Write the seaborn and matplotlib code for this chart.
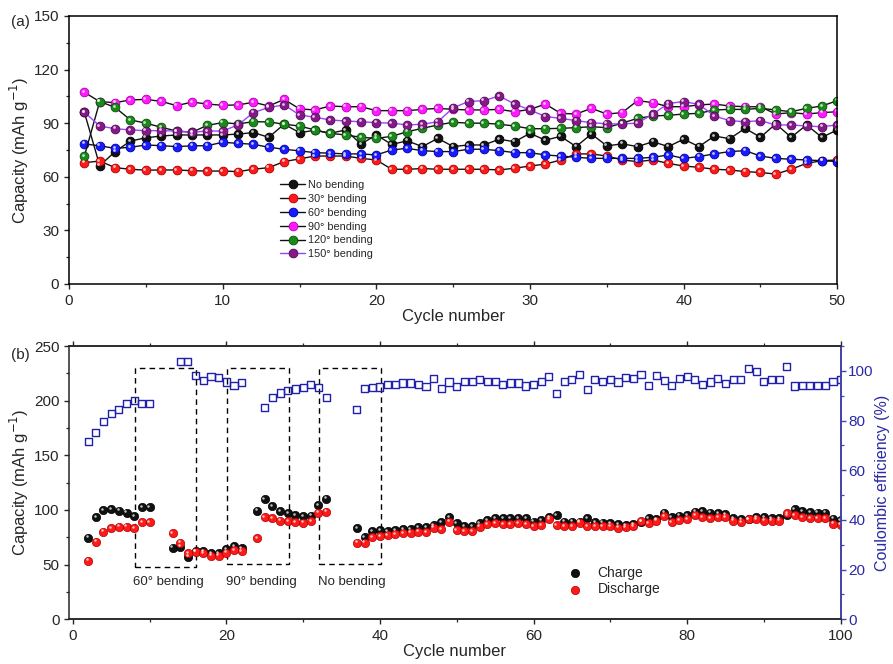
import numpy as np
import matplotlib
matplotlib.use("Agg")
import matplotlib.pyplot as plt
from matplotlib.patches import Rectangle
from matplotlib.transforms import offset_copy
from matplotlib.ticker import MultipleLocator
import seaborn as sns

# ---------------- data: panel (a) ----------------
cycles_a = list(range(1, 51))
no_bending = [96, 66.2, 74.1, 80, 81.8, 82.8, 83.4, 83.4, 83.4, 83.4,
              83.9, 84.7, 82.1, 89.4, 84.7, 86, 84.3, 86.2, 78.3, 83.4,
              78.1, 80.1, 76.9, 81.5, 76.9, 77.8, 77.8, 81, 79.6, 84.3,
              80.5, 82.6, 76.9, 83.9, 77.3, 78.4, 76.9, 79.6, 76.9, 81,
              76.9, 82.8, 81.3, 87.1, 82.1, 89.6, 82.1, 89, 82.1, 86.2]
bend_30 = [67.9, 68.8, 65.1, 64.2, 63.7, 63.8, 63.8, 63.4, 63.2, 63.2,
           62.9, 64.2, 65.1, 68.5, 70, 71.6, 71.6, 71.6, 70.3, 69.4,
           64.2, 64.2, 64.6, 64.2, 64.2, 64.2, 64.2, 63.8, 64.8, 66,
           67.1, 69.4, 72.8, 72.8, 71.6, 69.4, 68.5, 69.4, 67.5, 66,
           65.3, 64.2, 63.8, 62.9, 62.4, 61.5, 64.2, 67.5, 69, 69.4]
bend_60 = [78.4, 77.3, 75.9, 76.5, 77.8, 77.4, 76.9, 77.3, 77.4, 79.3,
           78.7, 78.2, 76.5, 75.4, 74.5, 73.5, 73.2, 72.8, 72.8, 72.2,
           75, 75.9, 74.6, 74.1, 74.1, 75.4, 75.4, 74.6, 73.5, 73.5,
           72.2, 71.6, 70.9, 70.3, 70.3, 70.3, 70.3, 70.9, 72.2, 70.3,
           71.3, 72.8, 74.1, 74.6, 71.6, 70.3, 69.8, 69.4, 69, 68.5]
bend_90 = [107.3, 102, 101.5, 103, 103.3, 102.2, 99.8, 101.8, 100.7, 100,
           100.2, 101.7, 99.6, 103.3, 98, 97.4, 99.6, 99.2, 99.2, 97,
           97, 97, 97.7, 98.3, 97.7, 97.4, 97.4, 97.7, 96.4, 97.7,
           100.7, 95.5, 95.1, 98.3, 95.1, 95.9, 102.6, 101.5, 99.2, 99.2,
           100.2, 100.7, 99.6, 99.2, 99.2, 95.1, 95.9, 95.1, 95.9, 96.4]
bend_120 = [71.6, 102.1, 98.8, 91.8, 90, 87.7, 85.6, 84.9, 88.8, 90.3,
            89.6, 90.8, 90.7, 89.4, 88.4, 86.2, 84.3, 83.4, 82.1, 81.5,
            82.6, 85.2, 87.1, 89, 90.5, 90, 90, 89.4, 88.4, 86.9,
            86.9, 87.1, 87.5, 88, 87.5, 90, 92.7, 94, 94.4, 95.1,
            95.5, 97.4, 97.7, 97.7, 98.3, 97.4, 96.4, 98.3, 99.6, 102.6]
bend_150 = [96.1, 88.4, 86.9, 86.2, 85.8, 85.8, 85.6, 84.9, 85.6, 85.6,
            89, 95.9, 98.8, 100.2, 94.6, 93.3, 91.8, 91.2, 90.8, 90.3,
            90, 89, 89.4, 90.8, 98.6, 102.1, 102.6, 105.2, 100.7, 97.4,
            93.7, 92.7, 91.4, 90.3, 89.6, 89.6, 90, 95.1, 101, 102.1,
            100.5, 94, 91.4, 90.8, 91.4, 89, 89, 88.4, 88, 89]
series_names = ["No bending", "30\u00b0 bending", "60\u00b0 bending",
                "90\u00b0 bending", "120\u00b0 bending", "150\u00b0 bending"]
series_values = [no_bending, bend_30, bend_60, bend_90, bend_120, bend_150]

# ---------------- data: panel (b) ----------------
cycles_b = ([2, 3, 4, 5, 6, 7, 8, 9, 10] + list(range(13, 23)) +
            list(range(24, 34)) + list(range(37, 101)))
charge = [74.7, 93.8, 100.0, 100.6, 99.4, 97.6, 94.5, 102.5, 102.5,
          65.5, 66.5, 57.3, 62.5, 62.5, 60.3, 60.3, 64.3, 67.1, 65.2,
          99.4, 109.8, 103.7, 98.8, 96.9, 95.4, 94.5, 94.8, 104.3, 110.4,
          83.2, 75.0, 80.7, 81.7, 81.0, 81.7, 82.3, 82.3, 84.2, 84.1,
          86.3, 88.7, 93.8, 87.8, 85.3, 85.3, 87.8, 90.9, 92.4, 92.4,
          92.4, 92.4, 92.4, 89.3, 90.9, 93.8, 95.4, 89.3, 89.3, 89.3,
          92.4, 88.7, 88.4, 87.8, 86.9, 86.3, 86.9, 89.3, 92.4, 91.4,
          97.5, 93.8, 94.8, 95.1, 98.5, 99.1, 97.5, 96.9, 96.0, 92.4,
          91.4, 91.8, 93.8, 93.2, 92.9, 92.9, 95.4, 101.0, 99.1, 97.8,
          97.5, 97.5, 92.0, 90.5]
discharge = [53.7, 71.0, 80.2, 83.2, 84.7, 84.7, 83.2, 88.8, 88.8,
             78.7, 70.1, 60.5, 61.9, 60.3, 58.2, 58.2, 60.9, 63.4, 62.5,
             74.1, 93.8, 92.4, 90.3, 90.0, 88.8, 88.5, 90.0, 97.6, 98.5,
             70.1, 70.1, 75.0, 76.2, 77.1, 78.1, 78.7, 79.3, 80.2, 79.6,
             83.8, 82.3, 89.3, 81.7, 81.0, 81.0, 84.7, 87.2, 87.8, 87.2,
             87.2, 87.8, 87.2, 85.3, 86.3, 91.4, 86.3, 85.3, 85.3, 88.4,
             85.3, 85.3, 85.3, 85.3, 83.8, 84.1, 85.3, 90.0, 87.8, 90.3,
             94.5, 88.7, 90.9, 91.8, 95.4, 93.8, 92.9, 93.8, 93.8, 90.3,
             88.7, 91.8, 91.8, 90.3, 90.3, 90.3, 96.9, 95.4, 93.8, 92.9,
             92.9, 92.9, 87.5, 86.6]
cycles_ce = ([2, 3, 4, 5, 6, 7, 8, 9, 10] + list(range(14, 23)) +
             list(range(25, 34)) + list(range(37, 101)))
efficiency = [71.5, 75.3, 79.6, 82.9, 84.6, 86.7, 88.0, 86.9, 86.9,
              103.6, 103.6, 98.2, 96.1, 97.9, 97.2, 95.5, 94.1, 95.4,
              85.3, 89.1, 91.1, 92.1, 92.7, 93.2, 94.5, 93.4, 89.4,
              84.3, 93.0, 93.2, 93.5, 94.5, 94.5, 95.1, 95.1, 94.5, 93.7,
              97.1, 93.0, 95.5, 93.7, 95.9, 95.9, 96.5, 95.7, 95.6, 94.4,
              95.1, 95.1, 93.9, 94.5, 95.7, 97.9, 91.0, 95.7, 96.5, 98.6,
              92.5, 96.4, 95.9, 96.7, 95.5, 97.5, 96.8, 98.6, 94.1, 98.1,
              96.1, 94.1, 96.8, 97.9, 96.4, 94.4, 95.5, 96.8, 94.8, 96.4,
              96.5, 101.0, 99.9, 95.7, 96.7, 96.7, 101.8, 93.9, 94.0, 94.0,
              94.2, 94.0, 95.7, 96.7]

box_left = [8.1, 20.1, 32.1]
box_right = [16.1, 28.1, 40.1]
box_bottom = [47.5, 50.3, 50.3]
box_top = [230, 230, 230]
box_labels = ["60\u00b0 bending", "90\u00b0 bending", "No bending"]

# ---------------- style ----------------
sns.set_style("ticks")
plt.rcParams["font.family"] = ["Liberation Sans", "DejaVu Sans"]
plt.rcParams["axes.linewidth"] = 1.1
plt.rcParams["xtick.major.width"] = 1.0
plt.rcParams["ytick.major.width"] = 1.0
plt.rcParams["xtick.minor.width"] = 0.9
plt.rcParams["ytick.minor.width"] = 0.9
plt.rcParams["xtick.major.size"] = 3.5
plt.rcParams["ytick.major.size"] = 3.5
plt.rcParams["xtick.minor.size"] = 2
plt.rcParams["ytick.minor.size"] = 2

face_colors = ["#111111", "#ff1a1a", "#1a1aff", "#ff1aff", "#1a8a1a", "#86188a"]
edge_colors = ["#000000", "#b00000", "#0000a0", "#b000b0", "#0a500a", "#500a55"]
line_colors = ["#111111", "#111111", "#111111", "#111111", "#111111", "#a040ff"]

fig = plt.figure(figsize=(8.93, 6.64), dpi=100)
ax1 = fig.add_axes([0.0773, 0.5723, 0.9376 - 0.0773, 0.976 - 0.5723])
ax2 = fig.add_axes([0.0776, 0.0673, 0.9414 - 0.0776, 0.4789 - 0.0673])

hl1 = offset_copy(ax1.transData, fig=fig, x=-1.0, y=1.0, units="points")
hl2 = offset_copy(ax2.transData, fig=fig, x=-0.9, y=0.9, units="points")

# ---------------- panel (a) ----------------
for name, vals, fc, ec, lc in zip(series_names, series_values, face_colors,
                                  edge_colors, line_colors):
    sns.lineplot(x=cycles_a, y=vals, ax=ax1, color=lc, linewidth=1.0,
                 marker="o", markersize=6.3, markerfacecolor=fc,
                 markeredgecolor=ec, markeredgewidth=0.6, label=name,
                 sort=False, legend=False)
for vals in series_values:
    ax1.plot(cycles_a, vals, linestyle="none", marker="o", markersize=2.0,
             markerfacecolor="white", markeredgewidth=0, alpha=0.75,
             transform=hl1)

ax1.set_xlim(0, 50)
ax1.set_ylim(0, 150)
ax1.xaxis.set_major_locator(MultipleLocator(10))
ax1.xaxis.set_minor_locator(MultipleLocator(5))
ax1.yaxis.set_major_locator(MultipleLocator(30))
ax1.yaxis.set_minor_locator(MultipleLocator(15))
ax1.tick_params(axis="both", which="both", direction="out", labelsize=11,
                top=False, right=False)
ax1.set_xlabel("Cycle number", fontsize=12, labelpad=1)
ax1.set_ylabel("Capacity (mAh g$^{-1}$)", fontsize=12, labelpad=2)
for sp in ax1.spines.values():
    sp.set_visible(True)
    sp.set_color("black")
h, l = ax1.get_legend_handles_labels()
ax1.legend(h, l, loc="center left", bbox_to_anchor=(0.265, 0.24),
           frameon=False, fontsize=7.8, handlelength=2.3, handletextpad=0.3,
           labelspacing=0.35, borderpad=0.2)

# ---------------- panel (b) ----------------
sns.scatterplot(x=cycles_b, y=charge, ax=ax2, color="#111111", s=36,
                edgecolor="#000000", linewidth=0.5, label="Charge", zorder=3)
sns.scatterplot(x=cycles_b, y=discharge, ax=ax2, color="#ff1a1a", s=36,
                edgecolor="#b00000", linewidth=0.5, label="Discharge", zorder=3)
ax2.plot(cycles_b, charge, linestyle="none", marker="o", markersize=1.8,
         markerfacecolor="white", markeredgewidth=0, alpha=0.75,
         transform=hl2, zorder=4)
ax2.plot(cycles_b, discharge, linestyle="none", marker="o", markersize=1.8,
         markerfacecolor="white", markeredgewidth=0, alpha=0.75,
         transform=hl2, zorder=4)

for xl, xr, yb, yt in zip(box_left, box_right, box_bottom, box_top):
    ax2.add_patch(Rectangle((xl, yb), xr - xl, yt - yb, fill=False,
                            edgecolor="black", linestyle=(0, (4, 3)),
                            linewidth=1.0, zorder=2))
for xl, lab in zip(box_left, box_labels):
    ax2.text(xl - 0.2, 34, lab, fontsize=9.5, ha="left", va="center")

ax2.set_xlim(-0.45, 100)
ax2.set_ylim(0, 250)
ax2.xaxis.set_major_locator(MultipleLocator(20))
ax2.xaxis.set_minor_locator(MultipleLocator(10))
ax2.yaxis.set_major_locator(MultipleLocator(50))
ax2.yaxis.set_minor_locator(MultipleLocator(25))
ax2.tick_params(axis="both", which="both", direction="out", labelsize=11,
                top=True, right=False)
ax2.tick_params(axis="x", which="both", labeltop=False)
ax2.set_xlabel("Cycle number", fontsize=12, labelpad=1)
ax2.set_ylabel("Capacity (mAh g$^{-1}$)", fontsize=12, labelpad=2)
ax2.legend(loc="center left", bbox_to_anchor=(0.622, 0.14), frameon=False,
           fontsize=10, handletextpad=0.6, labelspacing=0.2, markerscale=1.0)

blue_txt = "#2a2aa5"
blue_sp = "#4545b5"
ax3 = ax2.twinx()
sns.scatterplot(x=cycles_ce, y=efficiency, ax=ax3, marker="s", s=26,
                facecolor="none", edgecolor="#2020aa", linewidth=1.0,
                legend=False)
ax3.set_ylim(0, 110)
ax3.yaxis.set_major_locator(MultipleLocator(20))
ax3.yaxis.set_minor_locator(MultipleLocator(10))
ax3.tick_params(axis="y", which="both", direction="out", colors=blue_sp,
                labelcolor=blue_txt, labelsize=11, pad=2)
ax3.spines["right"].set_color(blue_sp)
ax3.spines["right"].set_linewidth(1.3)
ax3.spines["left"].set_visible(False)
ax3.set_ylabel("Coulombic efficiency (%)", fontsize=11.5, color=blue_txt,
               labelpad=1)

fig.text(0.012, 0.967, "(a)", fontsize=11, ha="left", va="center")
fig.text(0.012, 0.466, "(b)", fontsize=11, ha="left", va="center")

fig.savefig("out.png", dpi=100)
